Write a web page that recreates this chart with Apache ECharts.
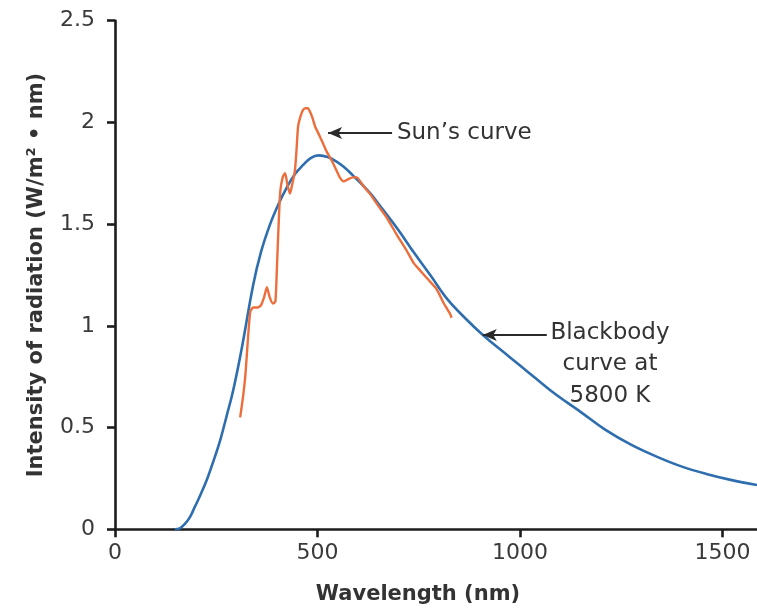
<!DOCTYPE html>
<html>
<head>
<meta charset="utf-8">
<script src="https://cdn.jsdelivr.net/npm/echarts@6/dist/echarts.min.js"></script>
<style>
html,body{margin:0;padding:0;background:#fff;}
#chart{width:757px;height:615px;}
</style>
</head>
<body>
<div id="chart"></div>
<script>
// Wavelength (nm) / intensity pairs
const blackbodyWavelength = [148,160,172,185,197,210,227,243,260,276,292,313,341,360,383,404,424,444,464,483,503,525,545,566,587,610,631,660,700,738,780,821,866,911,960,1000,1040,1077,1115,1151,1210,1275,1340,1400,1460,1520,1585];
const blackbodyIntensity  = [0,0.005,0.025,0.06,0.11,0.165,0.245,0.335,0.44,0.56,0.685,0.89,1.20,1.36,1.50,1.60,1.68,1.745,1.79,1.825,1.838,1.83,1.81,1.78,1.74,1.695,1.65,1.575,1.47,1.36,1.245,1.13,1.035,0.95,0.87,0.805,0.74,0.68,0.625,0.575,0.49,0.415,0.355,0.308,0.272,0.243,0.218];

const sunWavelength = [309,316,322,328,334,341,352,360,368,375,382,390,396,400,404,408,414,420,426,432,438,444,448,452,458,464,470,476,482,488,494,506,515,523,533,543,555,565,575,587,597,612,629,650,670,695,720,737,752,772,794,812,827,831];
const sunIntensity  = [0.55,0.65,0.76,0.93,1.07,1.09,1.09,1.10,1.14,1.19,1.14,1.11,1.12,1.30,1.50,1.66,1.73,1.75,1.69,1.65,1.70,1.76,1.86,1.98,2.03,2.06,2.07,2.07,2.05,2.02,1.98,1.93,1.89,1.855,1.82,1.78,1.73,1.71,1.72,1.73,1.73,1.69,1.65,1.59,1.535,1.45,1.37,1.31,1.275,1.23,1.18,1.11,1.06,1.04];

const xTickValues = [0,500,1000,1500];
const xTickLabels = ['0','500','1000','1500'];
const yTickLabels = ['0','0.5','1','1.5','2','2.5'];

const xName = 'Wavelength (nm)';
const yName = 'Intensity of radiation (W/m\u00B2 \u2022 nm)';
const sunLabel = 'Sun\u2019s curve';
const bbLabel = 'Blackbody\ncurve at\n5800 K';

const pair = (xs, ys) => xs.map((x, i) => [x, ys[i]]);

const FONT = 'DejaVu Sans';
const chart = echarts.init(document.getElementById('chart'), null, {renderer: 'canvas'});

const option = {
  animation: false,
  backgroundColor: '#ffffff',
  grid: {left: 115, right: 0, top: 20.7, bottom: 85.7, containLabel: false},
  xAxis: {
    type: 'value', min: 0, max: 1585, interval: 500,
    name: xName, nameLocation: 'middle', nameGap: 55,
    nameTextStyle: {fontFamily: FONT, fontWeight: 'bold', fontSize: 21, color: '#333', padding: [0, 36, 0, 0]},
    axisLine: {show: true, lineStyle: {color: '#1c1c1c', width: 2.6}},
    axisTick: {show: true, length: 8, customValues: xTickValues, lineStyle: {color: '#1c1c1c', width: 2.6}},
    axisLabel: {fontFamily: FONT, fontSize: 22, color: '#3a3a3a', margin: 13, customValues: xTickValues,
      formatter: v => { const i = xTickValues.indexOf(v); return i >= 0 ? xTickLabels[i] : ''; }},
    splitLine: {show: false}
  },
  yAxis: {
    type: 'value', min: 0, max: 2.5, interval: 0.5,
    name: yName, nameLocation: 'middle', nameGap: 68, nameRotate: 90,
    nameTextStyle: {fontFamily: FONT, fontWeight: 'bold', fontSize: 21, color: '#333'},
    axisLine: {show: true, lineStyle: {color: '#1c1c1c', width: 2.6}},
    axisTick: {show: true, length: 8, lineStyle: {color: '#1c1c1c', width: 2.6}},
    axisLabel: {fontFamily: FONT, fontSize: 22, color: '#3a3a3a', margin: 20,
      formatter: v => yTickLabels[Math.round(v / 0.5)]},
    splitLine: {show: false}
  },
  series: [
    {
      type: 'line', name: 'Blackbody', data: pair(blackbodyWavelength, blackbodyIntensity),
      smooth: 0.4, showSymbol: false, silent: true,
      lineStyle: {color: '#2f6eae', width: 2.6},
      markLine: {
        silent: true, symbol: ['none', 'arrow'], symbolSize: [9, 14],
        label: {show: false},
        lineStyle: {color: '#2a2a2a', width: 2, type: 'solid'},
        data: [
          [{coord: [684, 1.948]}, {coord: [526, 1.948]}],
          [{coord: [1066, 0.955]}, {coord: [908, 0.955]}]
        ]
      }
    },
    {
      type: 'line', name: 'Sun', data: pair(sunWavelength, sunIntensity),
      smooth: 0.2, showSymbol: false, silent: true,
      lineStyle: {color: '#ec6e3c', width: 2.4}
    }
  ]
};
chart.setOption(option);

const p1 = chart.convertToPixel({gridIndex: 0}, [696, 1.948]);
const p2 = chart.convertToPixel({gridIndex: 0}, [1222, 0.81]);
chart.setOption({
  graphic: [
    {type: 'text', x: p1[0], y: p1[1], silent: true,
     style: {text: sunLabel, font: '23px "DejaVu Sans"', fill: '#333', align: 'left', verticalAlign: 'middle'}},
    {type: 'text', x: p2[0], y: p2[1], silent: true,
     style: {text: bbLabel, font: '23px "DejaVu Sans"', fill: '#333', align: 'center', verticalAlign: 'middle', lineHeight: 31.5}}
  ]
});
</script>
</body>
</html>
